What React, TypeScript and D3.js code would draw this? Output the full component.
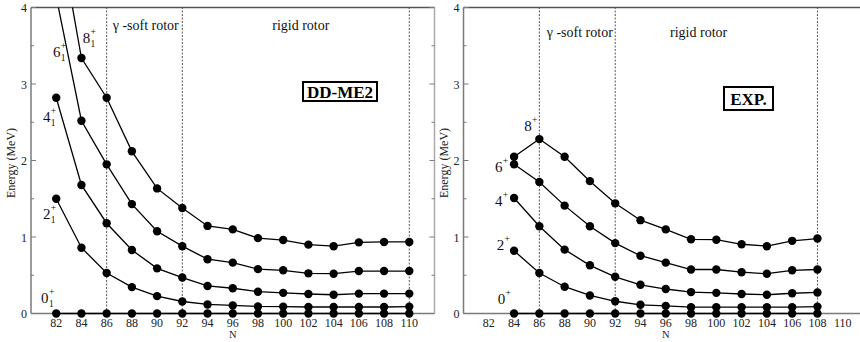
import React from "react";
import * as d3 from "d3";

// ---------- data ----------
const N_CALC = [82, 84, 86, 88, 90, 92, 94, 96, 98, 100, 102, 104, 106, 108, 110];
const CALC_0 = [0, 0, 0, 0, 0, 0, 0, 0, 0, 0, 0, 0, 0, 0, 0];
const CALC_2 = [1.5, 0.86, 0.53, 0.345, 0.227, 0.157, 0.118, 0.105, 0.092, 0.09, 0.085, 0.085, 0.085, 0.085, 0.09];
const CALC_4 = [2.82, 1.68, 1.18, 0.83, 0.59, 0.47, 0.36, 0.33, 0.285, 0.27, 0.255, 0.245, 0.26, 0.26, 0.26];
const CALC_6 = [4.14, 2.52, 1.95, 1.43, 1.075, 0.88, 0.71, 0.665, 0.58, 0.565, 0.525, 0.52, 0.555, 0.555, 0.555];
const CALC_8 = [5.2, 3.34, 2.82, 2.12, 1.635, 1.38, 1.145, 1.1, 0.985, 0.96, 0.9, 0.88, 0.93, 0.935, 0.935];

const N_EXP = [84, 86, 88, 90, 92, 94, 96, 98, 100, 102, 104, 106, 108];
const EXP_0 = [0, 0, 0, 0, 0, 0, 0, 0, 0, 0, 0, 0, 0];
const EXP_2 = [0.82, 0.53, 0.35, 0.236, 0.16, 0.114, 0.1, 0.083, 0.083, 0.083, 0.083, 0.083, 0.09];
const EXP_4 = [1.51, 1.14, 0.835, 0.63, 0.48, 0.375, 0.32, 0.28, 0.27, 0.255, 0.245, 0.265, 0.275];
const EXP_6 = [1.95, 1.72, 1.41, 1.14, 0.92, 0.755, 0.665, 0.575, 0.575, 0.54, 0.52, 0.565, 0.575];
const EXP_8 = [2.05, 2.28, 2.05, 1.73, 1.44, 1.22, 1.1, 0.97, 0.965, 0.905, 0.88, 0.95, 0.98];

const X_TICKS = [82, 84, 86, 88, 90, 92, 94, 96, 98, 100, 102, 104, 106, 108, 110];
const Y_TICKS = [0, 1, 2, 3, 4];
const Y_MINOR = [0.5, 1.5, 2.5, 3.5];

const CALC_LABELS = [
  { j: "8", sub: "1", n: 84.1, e: 3.536 },
  { j: "6", sub: "1", n: 81.75, e: 3.353 },
  { j: "4", sub: "1", n: 80.95, e: 2.503 },
  { j: "2", sub: "1", n: 80.95, e: 1.235 },
  { j: "0", sub: "1", n: 80.8, e: 0.137 },
];
const EXP_LABELS = [
  { j: "8", sub: "", n: 84.81, e: 2.386 },
  { j: "6", sub: "", n: 82.49, e: 1.85 },
  { j: "4", sub: "", n: 82.49, e: 1.405 },
  { j: "2", sub: "", n: 82.63, e: 0.83 },
  { j: "0", sub: "", n: 82.7, e: 0.124 },
];

const FONT = "'Liberation Serif', 'Times New Roman', Times, serif";
const FRAME = "#7a7a7a";

type PanelProps = {
  id: string;
  x0: number;
  x1: number;
  ns: number[];
  series: number[][];
  labels: { j: string; sub: string; n: number; e: number }[];
  gammaLabelN: number;
  rigidLabelN: number;
  regionLabelY: number;
  rigidEnd: number;
  tag: string;
  tagBox: [number, number, number, number];
  yLabelX: number;
  drawRight: boolean;
};

const TOP = 7.5;
const BOTTOM = 313.5;

function Panel(p: PanelProps) {
  const x = d3.scaleLinear().domain([80, 112]).range([p.x0, p.x1]);
  const y = d3.scaleLinear().domain([0, 4]).range([BOTTOM, TOP]);
  const line = d3
    .line<[number, number]>()
    .x((d) => x(d[0]))
    .y((d) => y(d[1]));
  const clipId = "clip-" + p.id;
  const dash = "2,1.5";
  const xa = p.x0;
  const xb = p.drawRight ? p.x1 : 860;
  const serif = { fontFamily: FONT };
  return (
    <g>
      <defs>
        <clipPath id={clipId}>
          <rect x={p.x0} y={TOP} width={p.x1 - p.x0} height={BOTTOM - TOP + 6} />
        </clipPath>
      </defs>
      {/* dashed region boxes */}
      <g stroke="#555" strokeWidth={1} strokeDasharray={dash} fill="none">
        <line x1={x(86)} x2={x(86)} y1={y(0)} y2={y(4)} />
        <line x1={x(92)} x2={x(92)} y1={y(0)} y2={y(4)} />
        <line x1={x(p.rigidEnd)} x2={x(p.rigidEnd)} y1={y(0)} y2={y(4)} />
        <line x1={x(86)} x2={x(p.rigidEnd)} y1={y(4)} y2={y(4)} />
        <line x1={x(86)} x2={x(p.rigidEnd)} y1={y(0)} y2={y(0)} />
      </g>
      {/* frame */}
      <g stroke={FRAME} strokeWidth={1.5} fill="none">
        <line x1={xa} x2={xb} y1={BOTTOM} y2={BOTTOM} />
        <line x1={xa} x2={xa} y1={TOP} y2={BOTTOM} />
        <line x1={xa} x2={xb} y1={TOP} y2={TOP} stroke="#555" />
        {p.drawRight && <line x1={p.x1} x2={p.x1} y1={TOP} y2={BOTTOM} stroke="#aaa" />}
      </g>
      {/* y ticks */}
      <g stroke={FRAME} strokeWidth={1}>
        {Y_TICKS.map((t) => (
          <g key={"yt" + t}>
            <line x1={xa} x2={xa + 5} y1={y(t)} y2={y(t)} />
            {p.drawRight && <line x1={p.x1} x2={p.x1 - 5} y1={y(t)} y2={y(t)} />}
          </g>
        ))}
        {Y_MINOR.map((t) => (
          <g key={"ym" + t}>
            <line x1={xa} x2={xa + 3} y1={y(t)} y2={y(t)} />
            {p.drawRight && <line x1={p.x1} x2={p.x1 - 3} y1={y(t)} y2={y(t)} />}
          </g>
        ))}
      </g>
      <g style={serif} fontSize={12} fill="#222">
        {Y_TICKS.map((t) => (
          <text key={"yl" + t} x={xa - 4} y={y(t) + 4.5} textAnchor="end" style={serif}>
            {t}
          </text>
        ))}
        {X_TICKS.map((t) => (
          <text key={"xl" + t} x={x(t)} y={BOTTOM + 13} textAnchor="middle" style={serif}>
            {t}
          </text>
        ))}
        <text x={x(96)} y={BOTTOM + 24} textAnchor="middle" fontSize={10.5} style={serif}>
          N
        </text>
        <text
          transform={`translate(${p.yLabelX},163) rotate(-90)`}
          textAnchor="middle"
          fontSize={12}
          style={serif}
        >
          Energy (MeV)
        </text>
      </g>
      {/* region labels */}
      <g fontSize={14} fill="#111">
        <text x={x(p.gammaLabelN)} y={p.regionLabelY} textAnchor="middle" style={serif}>
          γ -soft rotor
        </text>
        <text x={x(p.rigidLabelN)} y={p.regionLabelY} textAnchor="middle" style={serif}>
          rigid rotor
        </text>
      </g>
      {/* data */}
      <g clipPath={`url(#${clipId})`}>
        {p.series.map((s, i) => {
          const pts = p.ns.map((n, k) => [n, s[k]] as [number, number]);
          return (
            <g key={"s" + i}>
              <path d={line(pts) || ""} fill="none" stroke="#000" strokeWidth={1.3} />
              {pts.map((d, k) => (
                <circle key={k} cx={x(d[0])} cy={y(d[1])} r={4.2} fill="#000" />
              ))}
            </g>
          );
        })}
      </g>
      {/* level labels */}
      <g fill="#111">
        {p.labels.map((l) => (
          <g key={"lab" + l.j}>
            <text x={x(l.n)} y={y(l.e)} fontSize={15} style={serif}>
              {l.j}
            </text>
            <text x={x(l.n) + 7.8} y={y(l.e) - 8} fontSize={9.5} style={serif}>
              +
            </text>
            {l.sub && (
              <text x={x(l.n) + 7.8} y={y(l.e) + 4} fontSize={9.5} style={serif}>
                {l.sub}
              </text>
            )}
          </g>
        ))}
      </g>
      {/* tag box */}
      <rect
        x={p.tagBox[0]}
        y={p.tagBox[1]}
        width={p.tagBox[2]}
        height={p.tagBox[3]}
        fill="#fff"
        stroke="#000"
        strokeWidth={2}
      />
      <text
        x={p.tagBox[0] + p.tagBox[2] / 2}
        y={p.tagBox[1] + p.tagBox[3] / 2 + 6}
        textAnchor="middle"
        fontWeight="bold"
        fontSize={17}
        fill="#000"
        style={serif}
      >
        {p.tag}
      </text>
    </g>
  );
}

export default function App() {
  return (
    <svg
      width={860}
      height={342}
      style={{ position: "absolute", left: 0, top: 0, background: "#fff" }}
    >
      <rect x={0} y={0} width={860} height={342} fill="#fff" />
      <Panel
        id="calc"
        x0={31}
        x1={434.5}
        ns={N_CALC}
        series={[CALC_0, CALC_2, CALC_4, CALC_6, CALC_8]}
        labels={CALC_LABELS}
        gammaLabelN={89.1}
        rigidLabelN={101.4}
        regionLabelY={29.5}
        rigidEnd={110}
        tag="DD-ME2"
        tagBox={[303, 82, 74, 19]}
        yLabelX={15}
        drawRight={true}
      />
      <Panel
        id="exp"
        x0={463.5}
        x1={868}
        ns={N_EXP}
        series={[EXP_0, EXP_2, EXP_4, EXP_6, EXP_8]}
        labels={EXP_LABELS}
        gammaLabelN={89.2}
        rigidLabelN={98.6}
        regionLabelY={36.5}
        rigidEnd={108}
        tag="EXP."
        tagBox={[724, 87, 49, 23]}
        yLabelX={448}
        drawRight={false}
      />
    </svg>
  );
}
